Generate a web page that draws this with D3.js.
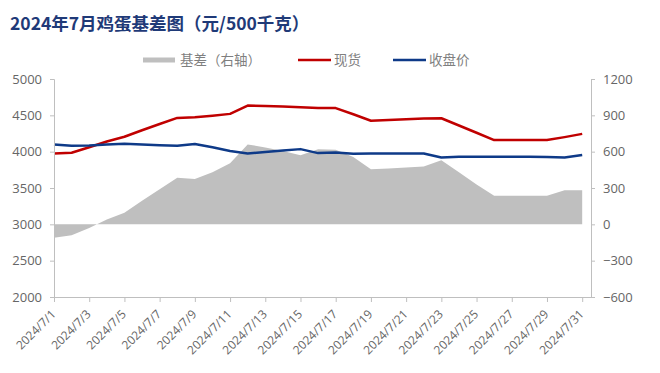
<!DOCTYPE html>
<html>
<head>
<meta charset="utf-8">
<script src="https://cdn.jsdelivr.net/npm/d3@7"></script>
<style>
  body { margin: 0; background: #fff; }
  svg { display: block; }
</style>
</head>
<body>
<div id="chart"></div>
<script>
// dates along the x axis
const dates = [
  '2024/7/1', '2024/7/2', '2024/7/3', '2024/7/4', '2024/7/5', '2024/7/6', '2024/7/7', '2024/7/8',
  '2024/7/9', '2024/7/10', '2024/7/11', '2024/7/12', '2024/7/13', '2024/7/14', '2024/7/15', '2024/7/16',
  '2024/7/17', '2024/7/18', '2024/7/19', '2024/7/20', '2024/7/21', '2024/7/22', '2024/7/23', '2024/7/24',
  '2024/7/25', '2024/7/26', '2024/7/27', '2024/7/28', '2024/7/29', '2024/7/30', '2024/7/31'
];
// 现货
const spotPrice = [
  3975, 3985, 4060, 4140, 4205, 4295, 4380, 4465, 4475, 4495, 4520, 4635, 4630, 4620, 4610, 4600,
  4600, 4515, 4425, 4435, 4445, 4455, 4460, 4360, 4260, 4160, 4160, 4160, 4160, 4200, 4245
];
// 收盘价
const closePrice = [
  4100, 4080, 4085, 4100, 4110, 4100, 4090, 4080, 4105, 4060, 4010, 3975, 3995, 4015, 4035, 3980,
  3990, 3970, 3975, 3975, 3975, 3975, 3920, 3930, 3930, 3930, 3930, 3930, 3927, 3920, 3955
];
// 基差（右轴）
const basis = [
  -110, -90, -30, 40, 95, 195, 290, 385, 375, 430, 505, 660, 635, 605, 570, 620,
  615, 555, 455, 460, 470, 478, 530, 430, 328, 235, 235, 235, 235, 282, 282
];
const leftTicks = [2000, 2500, 3000, 3500, 4000, 4500, 5000];
const rightTicks = [-600, -300, 0, 300, 600, 900, 1200];

const W = 660, H = 373;
const margin = { left: 54, right: 591, top: 79, bottom: 297 };

const svg = d3.select('#chart').append('svg')
  .attr('width', W).attr('height', H);

const x = d3.scaleLinear().domain([0, 30.5]).range([margin.left, margin.right]);
const yL = d3.scaleLinear().domain([2000, 5000]).range([margin.bottom, margin.top]);
const yR = d3.scaleLinear().domain([-600, 1200]).range([margin.bottom, margin.top]);

const axisColor = '#bfbfbf';
const textColor = '#666666';
const sans = '"Open Sans", "Noto Sans", sans-serif';
const cjk = '"Noto Sans CJK SC", sans-serif';

// title
svg.append('text')
  .attr('x', 10).attr('y', 30)
  .attr('font-family', cjk)
  .attr('font-weight', 'bold')
  .attr('font-size', 17.5)
  .attr('fill', '#1f3a78')
  .text('2024年7月鸡蛋基差图（元/500千克）');

// basis area (right axis)
const area = d3.area()
  .x((d, i) => x(i))
  .y0(yR(0))
  .y1(d => yR(d));

svg.append('path')
  .datum(basis)
  .attr('fill', '#bfbfbf')
  .attr('d', area);

// lines
const line = d3.line()
  .x((d, i) => x(i))
  .y(d => yL(d));

svg.append('path')
  .datum(spotPrice)
  .attr('fill', 'none')
  .attr('stroke', '#c00000')
  .attr('stroke-width', 2.5)
  .attr('stroke-linejoin', 'round')
  .attr('d', line);

svg.append('path')
  .datum(closePrice)
  .attr('fill', 'none')
  .attr('stroke', '#0e3a88')
  .attr('stroke-width', 2.5)
  .attr('stroke-linejoin', 'round')
  .attr('d', line);

// left axis
const gL = svg.append('g')
  .attr('transform', `translate(${margin.left},0)`)
  .call(d3.axisLeft(yL).tickValues(leftTicks).tickSize(4).tickPadding(8).tickFormat(d3.format('d')));

// right axis
const gR = svg.append('g')
  .attr('transform', `translate(${margin.right},0)`)
  .call(d3.axisRight(yR).tickValues(rightTicks).tickSize(4).tickPadding(8).tickFormat(d3.format('d')));

// bottom axis: tick every two days
const tickIdx = d3.range(0, dates.length, 2);
const gB = svg.append('g')
  .attr('transform', `translate(0,${margin.bottom})`)
  .call(d3.axisBottom(x).tickValues(tickIdx).tickSize(5).tickFormat(i => dates[i]));

gB.select('.domain').attr('d', `M${margin.left},0.5H${margin.right}`);

[gL, gR, gB].forEach(g => {
  g.select('.domain').attr('stroke', axisColor);
  g.selectAll('.tick line').attr('stroke', axisColor);
  g.selectAll('text')
    .attr('fill', textColor)
    .attr('font-family', sans)
    .attr('font-size', 13);
});

gB.selectAll('text')
  .attr('font-size', 12)
  .attr('text-anchor', 'end')
  .attr('dy', 0)
  .attr('y', 0)
  .attr('transform', 'translate(2,18) rotate(-45)');

// legend
const legend = svg.append('g').attr('font-family', cjk).attr('font-size', 13.5).attr('fill', '#7f7f7f');
legend.append('rect').attr('x', 143).attr('y', 57.5).attr('width', 32).attr('height', 5).attr('fill', '#bfbfbf');
legend.append('text').attr('x', 180).attr('y', 65).text('基差（右轴）');
legend.append('line').attr('x1', 298).attr('x2', 331).attr('y1', 60).attr('y2', 60)
  .attr('stroke', '#c00000').attr('stroke-width', 2.5);
legend.append('text').attr('x', 334).attr('y', 65).text('现货');
legend.append('line').attr('x1', 393).attr('x2', 426).attr('y1', 60).attr('y2', 60)
  .attr('stroke', '#0e3a88').attr('stroke-width', 2.5);
legend.append('text').attr('x', 429).attr('y', 65).text('收盘价');
</script>
</body>
</html>
